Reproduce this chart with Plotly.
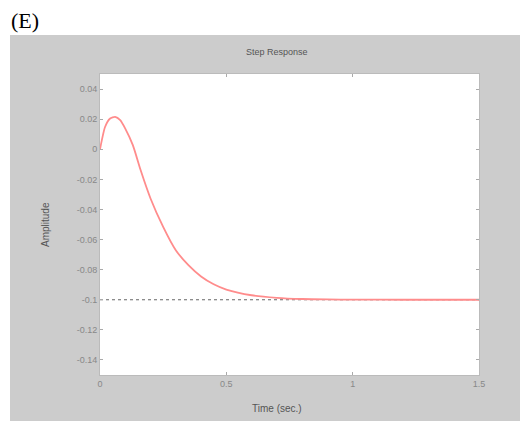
import plotly.graph_objects as go

# Step response data
time_s = [0, 0.02, 0.04, 0.06, 0.08, 0.1, 0.13, 0.16, 0.2, 0.25, 0.3, 0.35, 0.4,
          0.45, 0.5, 0.6, 0.7, 0.8, 0.9, 1.0, 1.2, 1.5]
amplitude = [0, 0.0148, 0.0204, 0.0215, 0.0193, 0.0137, 0.0027, -0.0135, -0.0327,
             -0.0516, -0.0671, -0.0770, -0.0845, -0.0897, -0.0932, -0.0970, -0.0987,
             -0.0995, -0.0998, -0.0999, -0.1, -0.1]
final_time = [0, 1.5]
final_value = [-0.1, -0.1]

x_ticks = [0, 0.5, 1, 1.5]
x_tick_labels = ["0", "0.5", "1", "1.5"]
y_ticks = [0.04, 0.02, 0, -0.02, -0.04, -0.06, -0.08, -0.1, -0.12, -0.14]
y_tick_labels = ["0.04", "0.02", "0", "-0.02", "-0.04", "-0.06", "-0.08", "-0.1", "-0.12", "-0.14"]

W, H = 520, 421
L, R, T, B = 100, 479, 74, 375
pw, ph = R - L, B - T

def px(xp):
    return (xp - L) / pw

def py(yp):
    return (B - yp) / ph

fig = go.Figure()
fig.add_trace(go.Scatter(x=final_time, y=final_value, mode="lines",
                         line=dict(color="#666666", width=1, dash="3px,3px"),
                         hoverinfo="skip", showlegend=False))
fig.add_trace(go.Scatter(x=time_s, y=amplitude, mode="lines",
                         line=dict(color="rgb(255,140,140)", width=1.8, shape="spline", smoothing=0.6),
                         showlegend=False))

axis_common = dict(showgrid=False, zeroline=False, showline=True, linecolor="#bbbbbb",
                   linewidth=1, mirror="ticks", ticks="inside", ticklen=3,
                   tickcolor="#aaaaaa", tickfont=dict(family="Liberation Sans", size=9, color="#888888"))

fig.update_xaxes(range=[0, 1.5], tickvals=x_ticks, ticktext=x_tick_labels, **axis_common)
fig.update_yaxes(range=[-0.15, 0.05], tickvals=y_ticks, ticktext=y_tick_labels, **axis_common)

fig.update_layout(
    width=W, height=H,
    margin=dict(l=L, r=W - R, t=T, b=H - B, pad=0),
    paper_bgcolor="white", plot_bgcolor="white",
    shapes=[dict(type="rect", xref="paper", yref="paper", layer="below",
                 x0=px(10), x1=px(520), y0=py(421), y1=py(35),
                 fillcolor="#cccccc", line=dict(width=0)),
            dict(type="rect", xref="paper", yref="paper", layer="below",
                 x0=0, x1=1, y0=0, y1=1,
                 fillcolor="white", line=dict(width=0))],
    annotations=[
        dict(text="(E)", xref="paper", yref="paper", x=px(9), y=py(6),
             xanchor="left", yanchor="top", showarrow=False,
             font=dict(family="Liberation Serif", size=22, color="black")),
        dict(text="Step Response", xref="paper", yref="paper", x=px(277), y=py(52),
             xanchor="center", yanchor="middle", showarrow=False,
             font=dict(family="Liberation Sans", size=9, color="#555555")),
        dict(text="Time (sec.)", xref="paper", yref="paper", x=px(277), y=py(408),
             xanchor="center", yanchor="middle", showarrow=False,
             font=dict(family="Liberation Sans", size=10, color="#555555")),
        dict(text="Amplitude", xref="paper", yref="paper", x=px(45), y=py(225),
             xanchor="center", yanchor="middle", showarrow=False, textangle=-90,
             font=dict(family="Liberation Sans", size=10, color="#555555")),
    ],
)

fig.write_html("out.html")
